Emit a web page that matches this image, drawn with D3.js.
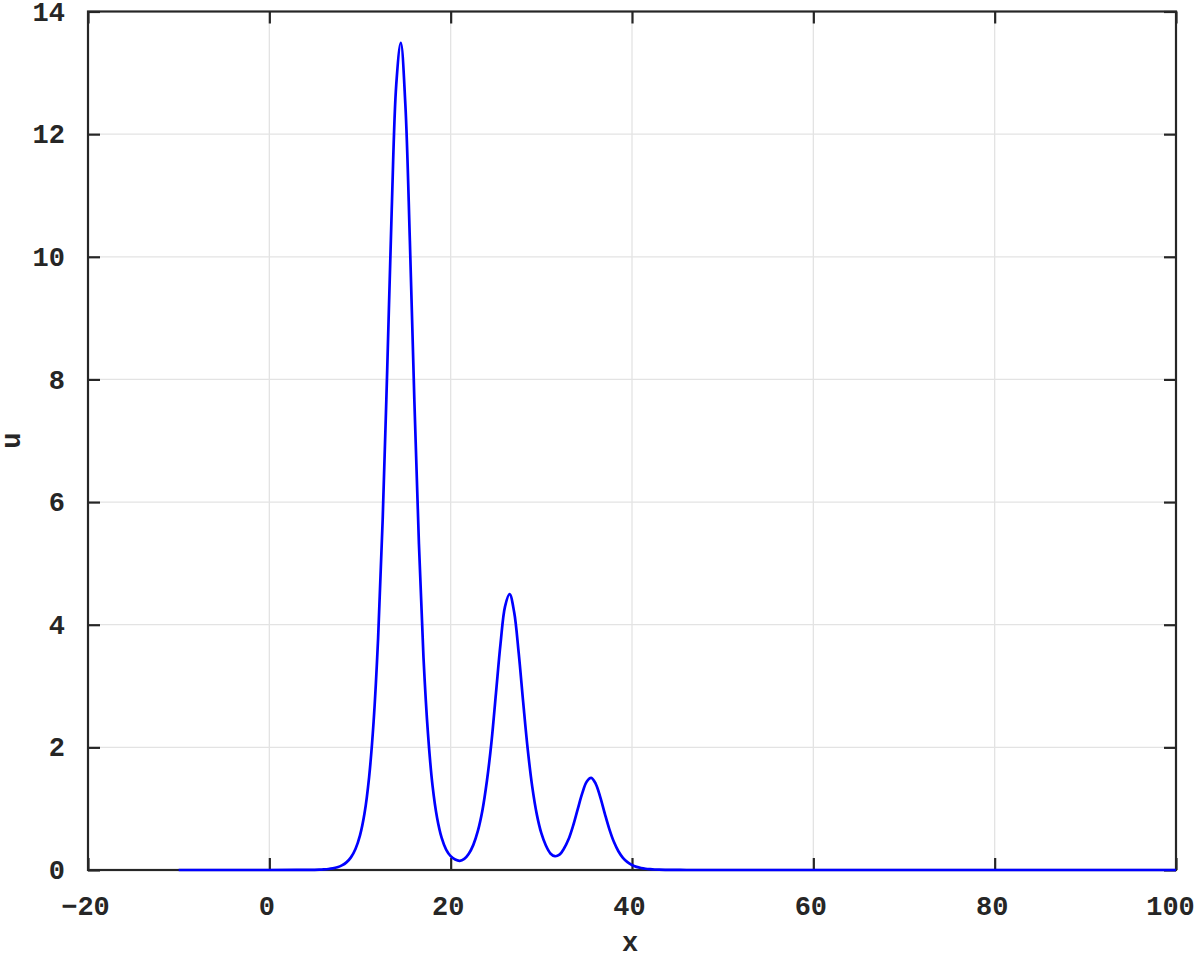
<!DOCTYPE html>
<html>
<head>
<meta charset="utf-8">
<script src="https://cdn.jsdelivr.net/npm/d3@7"></script>
<style>
  html, body { margin: 0; padding: 0; background: #ffffff; }
  svg { display: block; }
  text { font-family: "Liberation Mono", "Courier New", monospace; font-weight: bold; fill: #262626; }
</style>
</head>
<body>
<svg id="chart" width="1196" height="956"></svg>
<script>
// ---- data ----
const xValues = [-10, -5, 0, 3, 4,
  5, 5.5, 6, 6.5, 7, 7.5, 8, 8.5, 9, 9.5, 10, 10.5, 11, 11.5, 12, 12.5, 13, 13.5, 14, 14.5,
  15, 15.5, 16, 16.5, 17, 17.5, 18, 18.5, 19, 19.5, 20, 20.5, 21, 21.5, 22, 22.5, 23, 23.5, 24, 24.5,
  25, 25.5, 26, 26.5, 27, 27.5, 28, 28.5, 29, 29.5, 30, 30.5, 31, 31.5, 32, 32.5, 33, 33.5, 34, 34.5,
  35, 35.5, 36, 36.5, 37, 37.5, 38, 38.5, 39, 39.5, 40, 40.5, 41, 41.5, 42, 42.5, 43, 44, 45, 46,
  50, 60, 70, 80, 90, 100];
const uValues = [0, 0, 0, 0.001, 0.0015,
  0.0035, 0.006, 0.010, 0.016, 0.027, 0.045, 0.075, 0.124, 0.206, 0.342, 0.565, 0.925, 1.508, 2.418, 3.788, 5.711, 8.152, 10.77, 12.81, 13.49,
  12.49, 10.26, 7.634, 5.316, 3.472, 2.219, 1.375, 0.852, 0.527, 0.333, 0.226, 0.170, 0.150, 0.180, 0.265, 0.410, 0.637, 0.971, 1.455, 2.086,
  2.890, 3.692, 4.300, 4.498, 4.207, 3.544, 2.733, 1.967, 1.355, 0.907, 0.600, 0.400, 0.270, 0.225, 0.250, 0.350, 0.500, 0.720, 0.985, 1.245,
  1.440, 1.502, 1.406, 1.187, 0.919, 0.666, 0.459, 0.306, 0.199, 0.128, 0.081, 0.051, 0.032, 0.020, 0.013, 0.008, 0.005, 0.002, 0.001, 0,
  0, 0, 0, 0, 0, 0];
const xTicks = [-20, 0, 20, 40, 60, 80, 100];
const yTicks = [0, 2, 4, 6, 8, 10, 12, 14];
const xDomain = [-20, 100];
const yDomain = [0, 14];
const xLabel = "x";
const yLabel = "u";

// ---- layout ----
const mLeft = 88, mRight = 1176, mTop = 11.5, mBottom = 870;
const axisColor = "#262626";
const gridColor = "#e3e3e3";
const tickLen = 12;
const fontSize = 27;

const svg = d3.select("#chart");
const x = d3.scaleLinear().domain(xDomain).range([mLeft, mRight]);
const y = d3.scaleLinear().domain(yDomain).range([mBottom, mTop]);
const fmt = d => (d < 0 ? "\u2212" + Math.abs(d) : String(d));

// grid
const grid = svg.append("g");
grid.selectAll("line.gx").data(xTicks.slice(1, -1)).join("line")
  .attr("x1", d => x(d)).attr("x2", d => x(d)).attr("y1", mTop).attr("y2", mBottom)
  .attr("stroke", gridColor).attr("stroke-width", 1.3);
grid.selectAll("line.gy").data(yTicks.slice(1, -1)).join("line")
  .attr("y1", d => y(d)).attr("y2", d => y(d)).attr("x1", mLeft).attr("x2", mRight)
  .attr("stroke", gridColor).attr("stroke-width", 1.3);

// axes with inward ticks on all four sides
const axBottom = d3.axisBottom(x).tickValues(xTicks).tickSize(-tickLen).tickPadding(tickLen + 14).tickFormat(fmt);
const axTop = d3.axisTop(x).tickValues(xTicks).tickSize(-tickLen).tickFormat("");
const axLeft = d3.axisLeft(y).tickValues(yTicks).tickSize(-tickLen).tickPadding(tickLen + 11).tickFormat(fmt);
const axRight = d3.axisRight(y).tickValues(yTicks).tickSize(-tickLen).tickFormat("");

function styleAxis(g) {
  g.select(".domain").remove();
  g.selectAll(".tick line").attr("stroke", axisColor).attr("stroke-width", 2.2);
  g.selectAll(".tick text").attr("font-size", fontSize).attr("fill", axisColor)
    .style("font-family", '"Liberation Mono", "Courier New", monospace').style("font-weight", "bold");
}
const gb = svg.append("g").attr("transform", `translate(0,${mBottom})`).call(axBottom).call(styleAxis);
gb.selectAll(".tick text").attr("dx", (d, i, n) => (i === n.length - 1 ? -6 : -3));
svg.append("g").attr("transform", `translate(0,${mTop})`).call(axTop).call(styleAxis);
svg.append("g").attr("transform", `translate(${mLeft},0)`).call(axLeft).call(styleAxis);
svg.append("g").attr("transform", `translate(${mRight},0)`).call(axRight).call(styleAxis);

// frame
svg.append("rect").attr("x", mLeft).attr("y", mTop).attr("width", mRight - mLeft).attr("height", mBottom - mTop)
  .attr("fill", "none").attr("stroke", axisColor).attr("stroke-width", 2.2);

// curve
const data = xValues.map((v, i) => ({ x: v, u: uValues[i] }));
const line = d3.line().x(d => x(d.x)).y(d => y(d.u)).curve(d3.curveCatmullRom.alpha(0.5));
svg.append("path").datum(data).attr("d", line)
  .attr("fill", "none").attr("stroke", "#0000ff").attr("stroke-width", 2.7).attr("stroke-linejoin", "round");

// axis labels
svg.append("text").attr("x", (mLeft + mRight) / 2 - 2).attr("y", 951).attr("text-anchor", "middle")
  .attr("font-size", fontSize).text(xLabel);
svg.append("text").attr("transform", `translate(20,${(mTop + mBottom) / 2}) rotate(-90)`)
  .attr("text-anchor", "middle").attr("font-size", fontSize).text(yLabel);
</script>
</body>
</html>
